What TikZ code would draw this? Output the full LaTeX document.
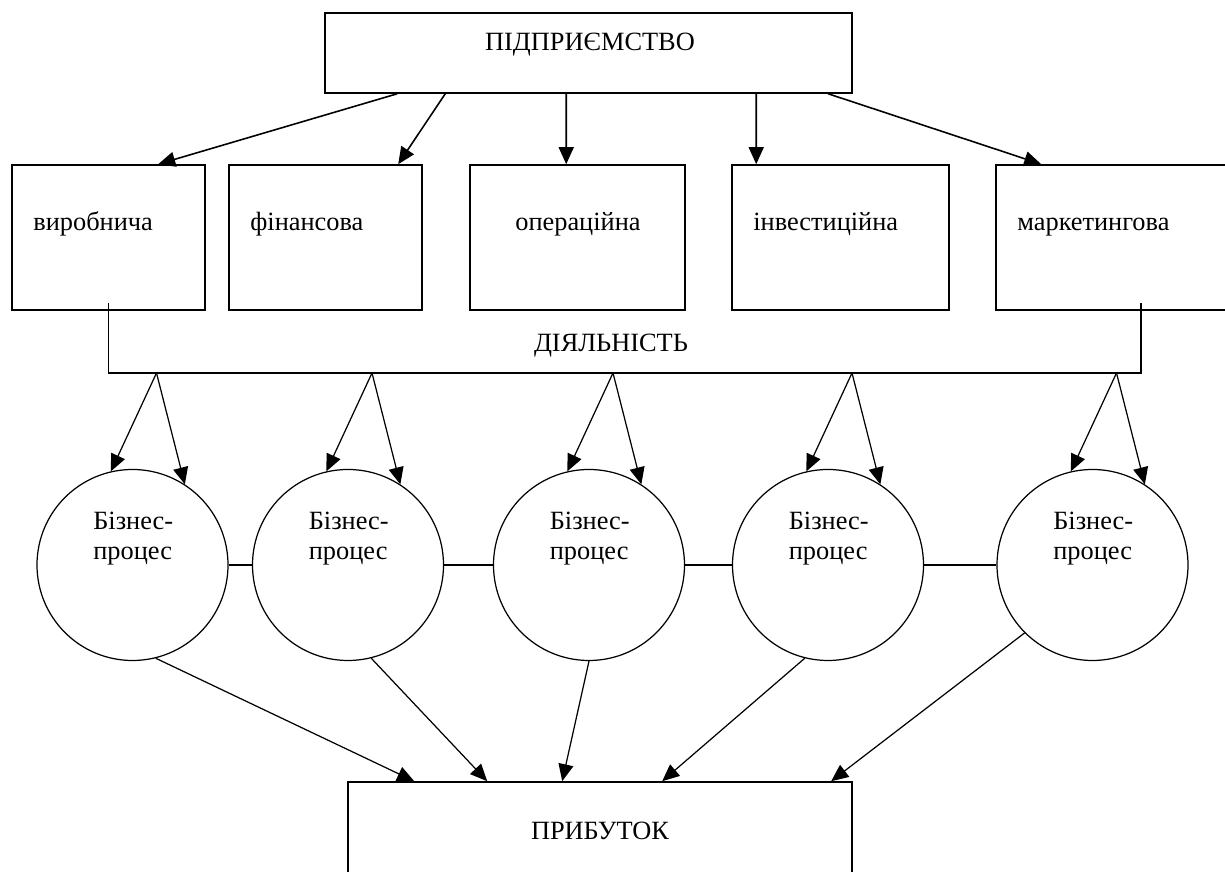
\documentclass[tikz,border=0pt]{standalone}
\usepackage{fontspec}
\setmainfont{Liberation Serif}
\usetikzlibrary{arrows.meta}

\begin{document}
\begin{tikzpicture}[font=\fontsize{15}{17.6}\selectfont,
  box/.style={draw,line width=0.9pt,inner sep=0pt,minimum height=2.9cm},
  txt/.style={inner sep=0pt},
  proc/.style={draw,circle,line width=0.7pt,minimum size=3.82cm,inner sep=0pt},
  arr/.style={-{Triangle[length=0.34cm,width=0.3cm]},line width=0.9pt},
  thinarr/.style={-{Triangle[length=0.34cm,width=0.3cm]},line width=0.7pt}]
\clip (0,0) rectangle (24.5,17.44);
%\draw[step=1cm,very thin,color=gray] (0,0) grid (24.5,17.44);
\node[box,minimum width=10.54cm,minimum height=1.6cm] (firm) at (11.77,16.38) {};
\node[txt,anchor=base] (firmt) at (11.8,16.42) {ПІДПРИЄМСТВО};
\node[box,minimum width=3.86cm] (vyr) at (2.17,12.69) {};
\node[box,minimum width=3.86cm] (fin) at (6.51,12.69) {};
\node[box,minimum width=4.30cm] (oper) at (11.55,12.69) {};
\node[box,minimum width=4.34cm] (inv) at (16.81,12.69) {};
\node[box,minimum width=5.80cm] (mark) at (22.82,12.69) {};
\node[txt,anchor=base west] (vyrt) at (0.66,12.82) {виробнича};
\node[txt,anchor=base west] (fint) at (5.00,12.82) {фінансова};
\node[txt,anchor=base west] (opert) at (10.30,12.82) {операційна};
\node[txt,anchor=base west] (invt) at (15.06,12.82) {інвестиційна};
\node[txt,anchor=base west] (markt) at (20.34,12.82) {маркетингова};
\draw[arr] ([xshift=1.46cm]firm.south west) -- ([xshift=2.94cm]vyr.north west);
\draw[arr] ([xshift=2.42cm]firm.south west) -- ([xshift=3.40cm]fin.north west);
\draw[arr] ([xshift=4.84cm]firm.south west) -- ([xshift=1.94cm]oper.north west);
\draw[arr] ([xshift=8.64cm]firm.south west) -- ([xshift=0.50cm]inv.north west);
\draw[arr] ([xshift=10.08cm]firm.south west) -- ([xshift=0.92cm]mark.north west);
% bracket
\coordinate (brk) at (12,9.98);
\draw[line width=0.9pt] ([yshift=0.16cm]vyr.south) |- (brk) -| ([yshift=0.16cm]mark.south);
\node[txt,anchor=base] (act) at (12.22,10.40) {ДІЯЛЬНІСТЬ};
% processes
\node[proc] (c1) at (2.65,6.14) {};
\node[proc] (c2) at (6.96,6.14) {};
\node[proc] (c3) at (11.78,6.14) {};
\node[proc] (c4) at (16.56,6.14) {};
\node[proc] (c5) at (21.85,6.14) {};
\node[txt,anchor=base west,align=left] (c1t) at (1.86,6.24) {Бізнес-\\процес};
\node[txt,anchor=base west,align=left] (c2t) at (6.17,6.24) {Бізнес-\\процес};
\node[txt,anchor=base west,align=left] (c3t) at (10.99,6.24) {Бізнес-\\процес};
\node[txt,anchor=base west,align=left] (c4t) at (15.77,6.24) {Бізнес-\\процес};
\node[txt,anchor=base west,align=left] (c5t) at (21.06,6.24) {Бізнес-\\процес};
\draw[line width=0.7pt] (c1.east) -- (c2.west);
\draw[line width=0.7pt] (c2.east) -- (c3.west);
\draw[line width=0.7pt] (c3.east) -- (c4.west);
\draw[line width=0.7pt] (c4.east) -- (c5.west);
\draw[thinarr] ([xshift=0.48cm]c1.center |- brk) -- (c1.103);
\draw[thinarr] ([xshift=0.48cm]c1.center |- brk) -- (c1.57);
\draw[thinarr] ([xshift=0.48cm]c2.center |- brk) -- (c2.103);
\draw[thinarr] ([xshift=0.48cm]c2.center |- brk) -- (c2.57);
\draw[thinarr] ([xshift=0.48cm]c3.center |- brk) -- (c3.103);
\draw[thinarr] ([xshift=0.48cm]c3.center |- brk) -- (c3.57);
\draw[thinarr] ([xshift=0.48cm]c4.center |- brk) -- (c4.103);
\draw[thinarr] ([xshift=0.48cm]c4.center |- brk) -- (c4.57);
\draw[thinarr] ([xshift=0.48cm]c5.center |- brk) -- (c5.103);
\draw[thinarr] ([xshift=0.48cm]c5.center |- brk) -- (c5.57);
% profit
\node[box,minimum width=10.08cm,minimum height=2.3cm] (prof) at (12.0,0.65) {};
\node[txt,anchor=base] (proft) at (12.0,0.64) {ПРИБУТОК};
\draw[thinarr] (c1.284) -- ([xshift=1.34cm]prof.north west);
\draw[thinarr] (c2.284) -- ([xshift=2.80cm]prof.north west);
\draw[thinarr] (c3.south) -- ([xshift=4.30cm]prof.north west);
\draw[thinarr] (c4.256) -- ([xshift=6.30cm]prof.north west);
\draw[thinarr] (c5.225) -- ([xshift=9.68cm]prof.north west);
\end{tikzpicture}
\end{document}
